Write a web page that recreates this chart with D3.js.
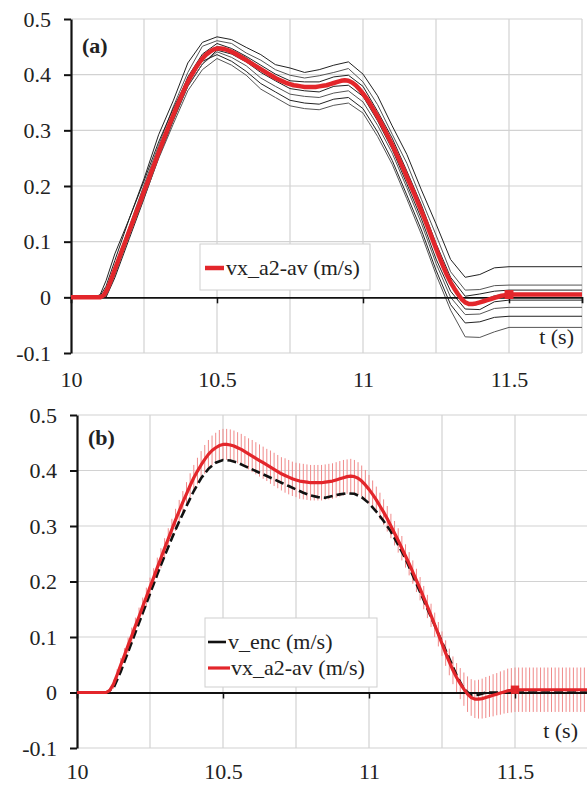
<!DOCTYPE html>
<html>
<head>
<meta charset="utf-8">
<script src="https://cdn.jsdelivr.net/npm/d3@7"></script>
<style>
  body { margin: 0; background: #fff; }
  svg { display: block; }
</style>
</head>
<body>
<svg id="chart" width="587" height="785"></svg>
<script>
// sample times of the averaged signal (s)
const time = [
  10,10.0125,10.025,10.0375,10.05,10.0625,10.075,10.0875,10.1,10.1125,
  10.125,10.1375,10.15,10.1625,10.175,10.1875,10.2,10.2125,10.225,10.2375,
  10.25,10.2625,10.275,10.2875,10.3,10.3125,10.325,10.3375,10.35,10.3625,
  10.375,10.3875,10.4,10.4125,10.425,10.4375,10.45,10.4625,10.475,10.4875,
  10.5,10.5125,10.525,10.5375,10.55,10.5625,10.575,10.5875,10.6,10.6125,
  10.625,10.6375,10.65,10.6625,10.675,10.6875,10.7,10.7125,10.725,10.7375,
  10.75,10.7625,10.775,10.7875,10.8,10.8125,10.825,10.8375,10.85,10.8625,
  10.875,10.8875,10.9,10.9125,10.925,10.9375,10.95,10.9625,10.975,10.9875,
  11,11.0125,11.025,11.0375,11.05,11.0625,11.075,11.0875,11.1,11.1125,
  11.125,11.1375,11.15,11.1625,11.175,11.1875,11.2,11.2125,11.225,11.2375,
  11.25,11.2625,11.275,11.2875,11.3,11.3125,11.325,11.3375,11.35,11.3625,
  11.375,11.3875,11.4,11.4125,11.425,11.4375,11.45,11.4625,11.475,11.4875,
  11.5,11.5125,11.525,11.5375,11.55,11.5625,11.575,11.5875,11.6,11.6125,
  11.625,11.6375,11.65,11.6625,11.675,11.6875,11.7,11.7125,11.725,11.7375,
  11.75
];
// vx_a2-av (m/s)
const vxAv = [
  0,0,0,0,0,0,0,0,0,0.004,
  0.015,0.032,0.05,0.067,0.085,0.102,0.12,0.137,0.155,0.172,
  0.19,0.207,0.225,0.242,0.26,0.277,0.294,0.311,0.327,0.343,
  0.358,0.373,0.387,0.399,0.41,0.42,0.429,0.436,0.441,0.445,
  0.447,0.447,0.446,0.444,0.441,0.438,0.434,0.43,0.426,0.422,
  0.418,0.414,0.41,0.406,0.402,0.398,0.394,0.391,0.388,0.385,
  0.383,0.381,0.38,0.379,0.378,0.378,0.378,0.378,0.379,0.38,
  0.381,0.383,0.385,0.387,0.389,0.39,0.389,0.386,0.381,0.374,
  0.366,0.357,0.347,0.336,0.325,0.313,0.3,0.287,0.274,0.26,
  0.246,0.232,0.217,0.202,0.187,0.171,0.155,0.139,0.122,0.105,
  0.088,0.071,0.055,0.04,0.027,0.016,0.006,-0.003,-0.009,-0.012,
  -0.012,-0.011,-0.009,-0.007,-0.005,-0.003,-0.001,0.001,0.003,0.004,
  0.005,0.005,0.005,0.005,0.005,0.005,0.005,0.005,0.005,0.005,
  0.005,0.005,0.005,0.005,0.005,0.005,0.005,0.005,0.005,0.005,
  0.005
];
// error bar half length (m/s)
const vxSd = [
  0,0,0,0,0,0,0,0,0,0.004,
  0.008,0.01,0.012,0.013,0.014,0.015,0.015,0.016,0.016,0.017,
  0.017,0.017,0.018,0.018,0.018,0.019,0.019,0.02,0.02,0.02,
  0.021,0.022,0.023,0.024,0.025,0.026,0.026,0.027,0.027,0.028,
  0.028,0.028,0.028,0.028,0.028,0.028,0.028,0.028,0.029,0.029,
  0.029,0.029,0.029,0.03,0.03,0.03,0.03,0.031,0.031,0.031,
  0.031,0.032,0.032,0.032,0.032,0.032,0.032,0.032,0.032,0.032,
  0.032,0.032,0.032,0.032,0.031,0.031,0.03,0.029,0.028,0.027,
  0.026,0.025,0.024,0.024,0.023,0.023,0.022,0.022,0.022,0.022,
  0.021,0.021,0.021,0.021,0.021,0.021,0.021,0.021,0.022,0.022,
  0.022,0.023,0.024,0.025,0.026,0.028,0.03,0.032,0.033,0.034,
  0.035,0.036,0.037,0.037,0.038,0.038,0.039,0.039,0.04,0.04,
  0.04,0.04,0.04,0.04,0.04,0.04,0.04,0.04,0.04,0.04,
  0.04,0.04,0.04,0.04,0.04,0.04,0.04,0.04,0.04,0.04,
  0.04
];

// individual trials (panel a)
const trialTime = [10, 10.08, 10.1, 10.12, 10.15, 10.2, 10.25, 10.3, 10.35, 10.4, 10.45, 10.5, 10.55,
  10.6, 10.65, 10.7, 10.75, 10.8, 10.85, 10.9, 10.95, 11, 11.05, 11.1, 11.15, 11.2, 11.25, 11.3,
  11.35, 11.4, 11.45, 11.5, 11.75];
const trial1 = [0,0,0.003,0.02,0.066,0.142,0.213,0.292,0.353,0.421,0.458,0.468,0.463,0.449,0.436,0.418,0.412,0.404,0.409,0.417,0.423,0.401,0.362,0.308,0.257,0.193,0.132,0.068,0.036,0.041,0.053,0.055,0.055];
const trial2 = [0,0,0,0.011,0.056,0.128,0.202,0.273,0.342,0.404,0.451,0.461,0.456,0.439,0.426,0.409,0.399,0.394,0.398,0.404,0.411,0.387,0.346,0.293,0.241,0.176,0.112,0.046,0.013,0.014,0.021,0.022,0.022];
const trial3 = [0,0,0,0.005,0.047,0.123,0.193,0.267,0.331,0.396,0.437,0.456,0.447,0.433,0.417,0.401,0.389,0.387,0.387,0.396,0.399,0.379,0.334,0.286,0.227,0.166,0.097,0.036,0.002,0.006,0.011,0.013,0.013];
const trial4 = [0,0,0,0.002,0.04,0.113,0.185,0.257,0.321,0.384,0.427,0.451,0.444,0.431,0.411,0.397,0.383,0.379,0.379,0.387,0.391,0.371,0.327,0.277,0.217,0.156,0.085,0.023,-0.011,-0.008,0.003,0.005,0.005];
const trial5 = [0,0,0,0,0.035,0.106,0.177,0.251,0.317,0.379,0.419,0.444,0.437,0.423,0.404,0.389,0.375,0.371,0.369,0.379,0.381,0.361,0.317,0.266,0.204,0.141,0.069,0.011,-0.021,-0.022,-0.008,-0.005,-0.005];
const trial6 = [0,0,0,0.004,0.044,0.116,0.184,0.256,0.319,0.379,0.419,0.441,0.431,0.416,0.394,0.379,0.365,0.361,0.359,0.367,0.371,0.351,0.309,0.259,0.197,0.133,0.061,0,-0.031,-0.03,-0.02,-0.018,-0.018];
const trial7 = [0,0,0.005,0.03,0.078,0.142,0.209,0.279,0.339,0.393,0.424,0.436,0.424,0.406,0.384,0.369,0.354,0.349,0.347,0.356,0.359,0.339,0.297,0.246,0.184,0.121,0.049,-0.013,-0.046,-0.044,-0.036,-0.034,-0.034];
const trial8 = [0,0,0,0.003,0.041,0.111,0.179,0.249,0.311,0.371,0.409,0.429,0.417,0.399,0.374,0.359,0.344,0.339,0.337,0.345,0.349,0.331,0.289,0.239,0.177,0.113,0.041,-0.023,-0.071,-0.072,-0.062,-0.054,-0.054];
const trials = [trial1, trial2, trial3, trial4, trial5, trial6, trial7, trial8];

// v_enc (m/s), panel b
const encTime = [10, 10.1, 10.125, 10.15, 10.175, 10.2, 10.225, 10.25, 10.275, 10.3, 10.325, 10.35,
  10.375, 10.4, 10.425, 10.45, 10.475, 10.5, 10.525, 10.55, 10.575, 10.6, 10.625, 10.65, 10.675,
  10.7, 10.725, 10.75, 10.775, 10.8, 10.825, 10.85, 10.875, 10.9, 10.925, 10.95, 10.975, 11,
  11.025, 11.05, 11.075, 11.1, 11.125, 11.15, 11.175, 11.2, 11.225, 11.25, 11.275, 11.3, 11.325,
  11.35, 11.375, 11.4, 11.5, 11.75];
const vEnc = [0, 0, 0.008, 0.038, 0.073, 0.108, 0.143, 0.178, 0.213, 0.246, 0.278, 0.308,
  0.336, 0.363, 0.386, 0.403, 0.414, 0.419, 0.418, 0.414, 0.408, 0.402, 0.396, 0.39, 0.384,
  0.378, 0.372, 0.366, 0.36, 0.355, 0.352, 0.351, 0.354, 0.357, 0.359, 0.358, 0.352, 0.341,
  0.326, 0.309, 0.29, 0.266, 0.241, 0.211, 0.181, 0.151, 0.121, 0.091, 0.061, 0.031, 0.006,
  -0.005, -0.004, 0, 0, 0];

const markT = 11.5, markV = 0.005;
const yTicks = [-0.1, 0, 0.1, 0.2, 0.3, 0.4, 0.5];
const xTicks = [10, 10.5, 11, 11.5];
const xGrid = [10.25, 10.5, 10.75, 11, 11.25, 11.5, 11.75];

const serif = '"Liberation Serif"';
const fs = 22;
const svg = d3.select("#chart");
const red = "#e3262b";
const ink = "#222";

function styleText(sel) {
  return sel.attr("font-size", fs).style("font-family", serif).attr("fill", ink);
}

function frame(x, y, tag, tagPos, tLabelPos, xLabelY) {
  const g = svg.append("g");
  // grid
  g.selectAll(".hg").data(yTicks.filter(d => d !== 0)).enter().append("line")
    .attr("x1", x(10)).attr("x2", x(11.75))
    .attr("y1", d => y(d)).attr("y2", d => y(d))
    .attr("stroke", "#d2d2d2").attr("stroke-width", 1.2);
  g.selectAll(".vg").data(xGrid).enter().append("line")
    .attr("x1", d => x(d)).attr("x2", d => x(d))
    .attr("y1", y(0.5)).attr("y2", y(-0.1))
    .attr("stroke", "#d2d2d2").attr("stroke-width", 1.2);
  // x labels along bottom
  g.append("g").attr("transform", `translate(0,${xLabelY})`)
    .call(d3.axisBottom(x).tickValues(xTicks).tickSize(0).tickPadding(0).tickFormat(d => String(d)))
    .call(a => a.select(".domain").remove())
    .selectAll("text").attr("dy", 0).call(styleText);
  g.append("text").attr("x", tagPos[0]).attr("y", tagPos[1])
    .call(styleText).attr("font-weight", "bold").text(tag);
  g.append("text").attr("x", tLabelPos[0]).attr("y", tLabelPos[1])
    .call(styleText).attr("text-anchor", "end").text("t (s)");
  return g;
}

function axes(g, x, y) {
  // zero line with ticks
  g.append("g").attr("transform", `translate(0,${y(0)})`)
    .call(d3.axisBottom(x).tickValues([10.5, 11, 11.5]).tickSize(6).tickFormat(""))
    .call(a => a.select(".domain").attr("stroke", "#111").attr("stroke-width", 1.8))
    .call(a => a.selectAll(".tick line").attr("stroke", "#111").attr("stroke-width", 1.5));
  g.append("g").attr("transform", `translate(${x(10)},0)`)
    .call(d3.axisLeft(y).tickValues(yTicks).tickSize(7).tickPadding(13)
      .tickFormat(d => String(d)).tickSizeOuter(0))
    .call(a => a.select(".domain").attr("stroke", "#111").attr("stroke-width", 2.2))
    .call(a => a.selectAll(".tick line").attr("stroke", "#111").attr("stroke-width", 2))
    .selectAll("text").call(styleText);
}

// ---------- panel (a) ----------
const xa = d3.scaleLinear().domain([10, 11.75]).range([71, 582]);
const ya = d3.scaleLinear().domain([-0.1, 0.5]).range([353, 19]);
const ga = frame(xa, ya, "(a)", [82, 53], [574, 344], 387);

const trialLine = d3.line().x((d, i) => xa(trialTime[i])).y(d => ya(d));
ga.selectAll(".trial").data(trials).enter().append("path")
  .attr("d", d => trialLine(d))
  .attr("fill", "none")
  .attr("stroke", (d, i) => i % 2 ? "#555" : "#222")
  .attr("stroke-width", 1)
  .attr("stroke-linejoin", "round");

axes(ga, xa, ya);

const avLineA = d3.line().x((d, i) => xa(time[i])).y(d => ya(d));
ga.append("path").attr("d", avLineA(vxAv)).attr("fill", "none")
  .attr("stroke", red).attr("stroke-width", 4.5).attr("stroke-linejoin", "round");
ga.append("path").attr("d", d3.symbol(d3.symbolSquare, 80)())
  .attr("transform", `translate(${xa(markT)},${ya(markV)})`).attr("fill", red);

// legend (a)
const la = ga.append("g");
la.append("rect").attr("x", 200).attr("y", 244).attr("width", 170).attr("height", 46)
  .attr("fill", "#fff").attr("stroke", "#cfcfcf");
la.append("line").attr("x1", 205).attr("x2", 224).attr("y1", 268).attr("y2", 268)
  .attr("stroke", red).attr("stroke-width", 4.5);
la.append("text").attr("x", 226).attr("y", 275).call(styleText).text("vx_a2-av (m/s)");

// ---------- panel (b) ----------
const xb = d3.scaleLinear().domain([10, 11.75]).range([77, 588]);
const yb = d3.scaleLinear().domain([-0.1, 0.5]).range([748, 415]);
const gb = frame(xb, yb, "(b)", [88, 445], [578, 738], 779);

// error bars
const bars = time.map((t, i) => ({ t, v: vxAv[i], s: vxSd[i] })).filter(d => d.s > 0);
gb.selectAll(".err").data(bars).enter().append("line")
  .attr("x1", d => xb(d.t)).attr("x2", d => xb(d.t))
  .attr("y1", d => yb(d.v + d.s)).attr("y2", d => yb(d.v - d.s))
  .attr("stroke", "#f08a8a").attr("stroke-width", 1);

axes(gb, xb, yb);

const encLine = d3.line().x((d, i) => xb(encTime[i])).y(d => yb(d));
gb.append("path").attr("d", encLine(vEnc)).attr("fill", "none")
  .attr("stroke", "#111").attr("stroke-width", 2.6).attr("stroke-dasharray", "9,4");

const avLineB = d3.line().x((d, i) => xb(time[i])).y(d => yb(d));
gb.append("path").attr("d", avLineB(vxAv)).attr("fill", "none")
  .attr("stroke", red).attr("stroke-width", 3.2).attr("stroke-linejoin", "round");
gb.append("path").attr("d", d3.symbol(d3.symbolSquare, 70)())
  .attr("transform", `translate(${xb(markT)},${yb(markV)})`).attr("fill", red);

// legend (b)
const lb = gb.append("g");
lb.append("rect").attr("x", 205).attr("y", 618).attr("width", 172).attr("height", 69)
  .attr("fill", "#fff").attr("stroke", "#cfcfcf");
lb.append("line").attr("x1", 208).attr("x2", 226).attr("y1", 642).attr("y2", 642)
  .attr("stroke", "#111").attr("stroke-width", 2.6);
lb.append("text").attr("x", 228).attr("y", 649).call(styleText).text("v_enc (m/s)");
lb.append("line").attr("x1", 208).attr("x2", 230).attr("y1", 668).attr("y2", 668)
  .attr("stroke", red).attr("stroke-width", 3.2);
lb.append("text").attr("x", 231).attr("y", 675).call(styleText).text("vx_a2-av (m/s)");
</script>
</body>
</html>
